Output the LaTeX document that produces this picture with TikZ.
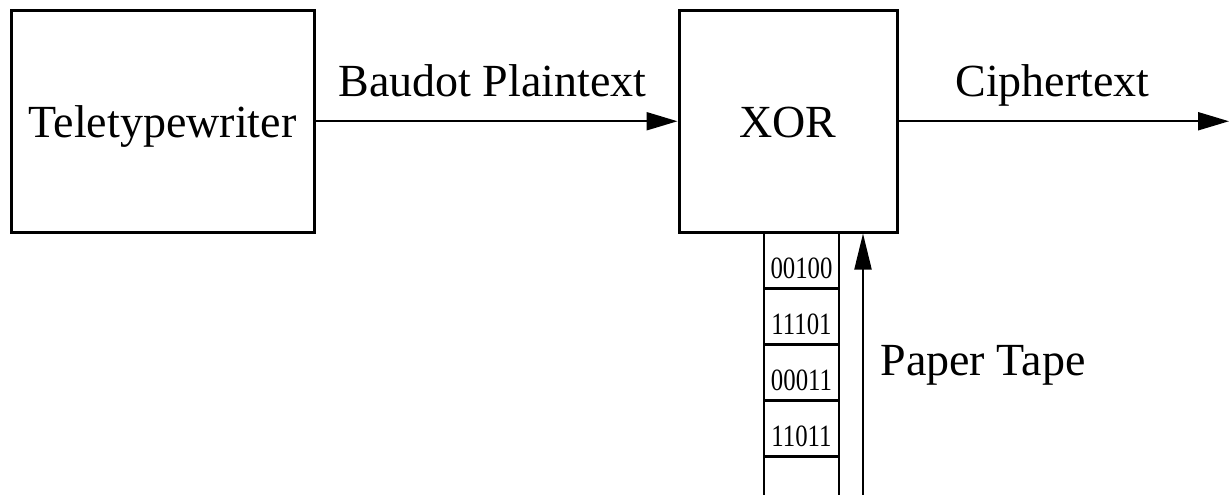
\documentclass[tikz,border=0pt]{standalone}
\usepackage{fontspec}
\setmainfont{Liberation Serif}
\usetikzlibrary{arrows.meta}
\begin{document}
\begin{tikzpicture}[x=1pt,y=-1pt,
  block/.style={draw, line width=3pt, inner sep=0pt,
    minimum height=221.5pt, text height=40pt, text depth=8.5pt,
    font=\fontsize{46}{50}\selectfont},
  cell/.style={draw, line width=2.6pt, inner sep=0pt, outer sep=0pt,
    minimum width=75pt, minimum height=56pt, anchor=north,
    text height=40pt, text depth=4pt,
    font=\fontsize{31}{34}\selectfont},
  tapeside/.style={line width=2.6pt},
  conn/.style={line width=2pt, -{Triangle[length=31pt,width=18pt]}},
  lbl/.style={anchor=base, inner sep=0pt, font=\fontsize{46}{50}\selectfont}]
\useasboundingbox (0,0) rectangle (1229,495);

% main blocks
\node[block, minimum width=303pt] (tele) at (162.5,121.25) {Teletypewriter};
\node[block, minimum width=218pt] (xor) at (788,121.25) {XOR};

% paper tape with its key groups
\node[cell] (c1) at (801.5,232.5) {\scalebox{0.8}[1]{00100}};
\node[cell] (c2) at (c1.south) {\scalebox{0.8}[1]{11101}};
\node[cell] (c3) at (c2.south) {\scalebox{0.8}[1]{00011}};
\node[cell] (c4) at (c3.south) {\scalebox{0.8}[1]{11011}};
\coordinate (tapeend) at (801.5,495);
\draw[tapeside] (c4.south west) -- (c4.south west |- tapeend);
\draw[tapeside] (c4.south east) -- (c4.south east |- tapeend);

% connectors
\coordinate (out) at (1229,121.25);
\coordinate (feed) at (863,495);
\draw[conn] (tele) -- (xor);
\draw[conn] (xor) -- (out);
\draw[conn, -{Triangle[length=36pt,width=17pt]}] (feed) -- (feed |- xor.south);

% labels
\node[lbl] (plain) at (492.5,96) {Baudot Plaintext};
\node[lbl] (cipher) at (1052.5,96) {Ciphertext};
\node[lbl] (tape) at (983,375) {Paper Tape};
\end{tikzpicture}
\end{document}
